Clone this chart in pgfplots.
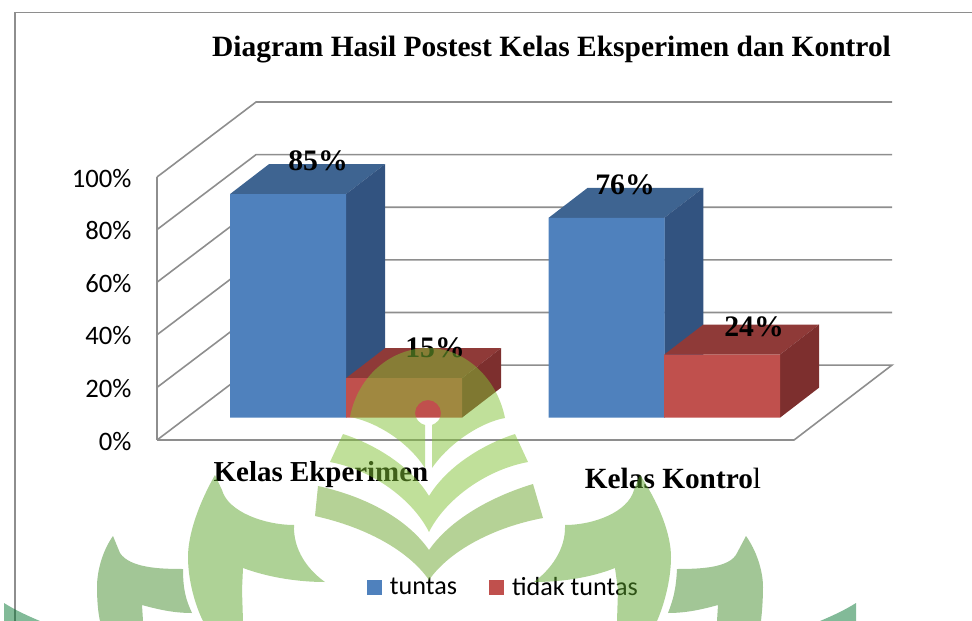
\documentclass[border=0pt]{standalone}
\usepackage{fontspec}
\usepackage{pgfplots}
\pgfplotsset{compat=1.18}
\setmainfont{Liberation Serif}
\newfontfamily\carlito{Carlito}
\definecolor{bblue}{HTML}{4F81BD}
\definecolor{bbluetop}{HTML}{3E6491}
\definecolor{bblueside}{HTML}{325380}
\definecolor{bred}{HTML}{C0504D}
\definecolor{bredtop}{HTML}{8F3A38}
\definecolor{bredside}{HTML}{7D2F2E}
\definecolor{gridc}{HTML}{8E8E8E}
\definecolor{wA}{RGB}{129,193,53}
\definecolor{wB}{RGB}{107,165,45}
\definecolor{wC}{RGB}{93,165,45}
\definecolor{wD}{RGB}{69,141,45}
\definecolor{wE}{RGB}{5,117,49}
\pgfplotsset{
  full/.style={at={(0,0)},anchor=south west,scale only axis,width=729pt,height=465.75pt,
    xmin=0,xmax=972,hide axis},
  pxaxis/.style={full,ymin=0,ymax=621,y dir=reverse},
  barface/.style={draw=none,fill=#1,forget plot},
  gl/.style={gridc,line width=1.2pt,no marks,forget plot},
}
\begin{document}
\begin{tikzpicture}
\path[use as bounding box] (0,0) rectangle (729pt,465.75pt);
% frame and title
\begin{axis}[pxaxis]
\addplot[gl,line width=.9pt] coordinates {(15,621)(15,12.5)(972,12.5)};
\node[anchor=center,font=\fontsize{22.1}{24}\selectfont\bfseries] at (551.5,50) {Diagram Hasil Postest Kelas Eksperimen dan Kontrol};
\end{axis}
% chart: y in percent, 0 on the front plane of the bars
\begin{axis}[full,ymin=-77.3,ymax=158.8,
  legend style={at={(0.3776,0.0540)},anchor=west,legend columns=2,draw=none,fill=none,
    inner sep=0pt,outer sep=0pt,
    font=\fontsize{19.6}{22}\selectfont\carlito,
    /tikz/every even column/.append style={column sep=22pt}}]
% walls and floor
\addplot[gl] coordinates {(157,-8.5)(256,20)(892,20)(794,-8.5)(157,-8.5)};
\addplot[gl] coordinates {(157,11.5)(256,40)(892,40)};
\addplot[gl] coordinates {(157,31.5)(256,60)(892,60)};
\addplot[gl] coordinates {(157,51.5)(256,80)(892,80)};
\addplot[gl] coordinates {(157,71.5)(256,100)(892,100)};
\addplot[gl] coordinates {(157,91.5)(256,120)(892,120)};
% Kelas Ekperimen tuntas
\addplot[barface=bbluetop] coordinates {(230,85)(269,96.4)(385,96.4)(346,85)} -- cycle;
\addplot[barface=bblueside] coordinates {(346,0)(346,85)(385,96.4)(385,11.4)} -- cycle;
% Kelas Kontrol tuntas
\addplot[barface=bbluetop] coordinates {(548.7,76)(587.7,87.4)(703.3,87.4)(664.3,76)} -- cycle;
\addplot[barface=bblueside] coordinates {(664.3,0)(664.3,76)(703.3,87.4)(703.3,11.4)} -- cycle;
\addplot[ybar,bar width=116,bar shift=0pt,draw=none,fill=bblue,
  legend image code/.code={\fill[bblue] (0pt,-5.6pt) rectangle (11.25pt,5.6pt);\path (15.2pt,0pt);}]
  coordinates {(288,85)(606.5,76)};
\addlegendentry{tuntas}
% tidak tuntas
\addplot[barface=bredtop] coordinates {(346,15)(385,26.4)(501,26.4)(462,15)} -- cycle;
\addplot[barface=bredside] coordinates {(462,0)(462,15)(501,26.4)(501,11.4)} -- cycle;
\addplot[barface=bredtop] coordinates {(664.3,24)(703.3,35.4)(819,35.4)(780,24)} -- cycle;
\addplot[barface=bredside] coordinates {(780,0)(780,24)(819,35.4)(819,11.4)} -- cycle;
\addplot[ybar,bar width=116,bar shift=0pt,draw=none,fill=bred,
  legend image code/.code={\fill[bred] (0pt,-5.6pt) rectangle (11.25pt,5.6pt);\path (15.2pt,0pt);}]
  coordinates {(404,15)(722,24)};
\addlegendentry{tidak tuntas}
\node[font=\fontsize{22.3}{24}\selectfont\bfseries] at (318,97.6) {85\%};
\node[font=\fontsize{22.3}{24}\selectfont\bfseries] at (625,88.6) {76\%};
\node[font=\fontsize{22.3}{24}\selectfont\bfseries] at (435,26.6) {15\%};
\node[font=\fontsize{22.3}{24}\selectfont\bfseries] at (754,34.6) {24\%};
\node[font=\fontsize{21.7}{24}\selectfont\bfseries] at (321,-21.8) {Kelas Ekperimen};
\node[font=\fontsize{22}{24}\selectfont] at (673,-23) {\textbf{Kelas Kontro}l};
\end{axis}
% value axis: the left wall
\begin{axis}[at={(117.75pt,135.75pt)},anchor=south west,scale only axis,
  width=100pt,height=197.25pt,xmin=0,xmax=1,ymin=0,ymax=100,
  axis y line*=left,axis x line=none,
  axis line style={gridc,line width=1.2pt,-},
  ytick={0,20,40,60,80,100},major tick length=0pt,
  /pgf/number format/assume math mode=true,
  yticklabel={\pgfmathprintnumber{\tick}\%},
  yticklabel style={font=\fontsize{20}{22}\selectfont\carlito,xshift=-15.6pt,yshift=-.8pt}]
\addplot[draw=none,forget plot] coordinates {(0,0)(0,100)};
\end{axis}
% watermark over everything
\begin{axis}[pxaxis]
\fill[wA,fill opacity=.5] (350,417) .. controls (358,375) and (392,348) .. (428,348)
  .. controls (465,348) and (497,378) .. (505,418)
  .. controls (482,422) and (450,442) .. (432,468) -- (432,425)
  .. controls (437,423) and (441,419) .. (441,413) .. controls (441,406) and (435,400) .. (428,400)
  .. controls (421,400) and (415,406) .. (415,413) .. controls (415,419) and (420,424) .. (425,425)
  -- (425,468) .. controls (408,442) and (377,422) .. (350,417) -- cycle;
\fill[wA,fill opacity=.5] (343,434) .. controls (368,442) and (408,462) .. (429,496)
  .. controls (450,462) and (490,442) .. (515,434) -- (528,462)
  .. controls (485,470) and (445,500) .. (429,532)
  .. controls (413,500) and (373,470) .. (330,462) -- cycle;
\fill[wB,fill opacity=.5] (318,486) .. controls (368,497) and (408,520) .. (429,550)
  .. controls (450,520) and (490,497) .. (533,484) -- (543,518)
  .. controls (495,527) and (450,550) .. (429,580)
  .. controls (408,550) and (365,527) .. (315,516) -- cycle;
\fill[wC,fill opacity=.5] (215,475) .. controls (198,505) and (188,535) .. (188,557)
  .. controls (188,580) and (195,605) .. (203,621) -- (243,621) -- (242,590) -- (243,568)
  .. controls (270,578) and (300,582) .. (325,582) .. controls (308,570) and (293,550) .. (294,525)
  .. controls (265,525) and (228,512) .. (222,490) -- cycle;
\fill[wC,fill opacity=.5] (640,475) .. controls (660,505) and (671,535) .. (671,557)
  .. controls (671,580) and (664,605) .. (657,621) -- (617,621) -- (618,590) -- (615,568)
  .. controls (590,578) and (560,582) .. (534,582) .. controls (550,570) and (566,550) .. (565,525)
  .. controls (594,525) and (628,512) .. (634,490) -- cycle;
\fill[wD,fill opacity=.5] (113,536) .. controls (103,550) and (97,570) .. (97,587)
  .. controls (97,600) and (98,612) .. (100,621) -- (143,621) -- (142,605)
  .. controls (160,610) and (175,613) .. (192,613) .. controls (186,600) and (183,590) .. (183,569)
  .. controls (160,569) and (130,568) .. (120,553) -- cycle;
\fill[wD,fill opacity=.5] (746,536) .. controls (756,550) and (763,570) .. (763,587)
  .. controls (763,600) and (762,612) .. (761,621) -- (717,621) -- (718,605)
  .. controls (700,610) and (685,613) .. (668,613) .. controls (673,600) and (676,590) .. (677,569)
  .. controls (700,569) and (730,568) .. (737,553) -- cycle;
\fill[wE,fill opacity=.5] (4,603) .. controls (15,610) and (28,616) .. (40,621) -- (4,621) -- cycle;
\fill[wE,fill opacity=.5] (856,603) .. controls (845,610) and (832,616) .. (820,621) -- (856,621) -- cycle;
\end{axis}
\end{tikzpicture}
\end{document}
